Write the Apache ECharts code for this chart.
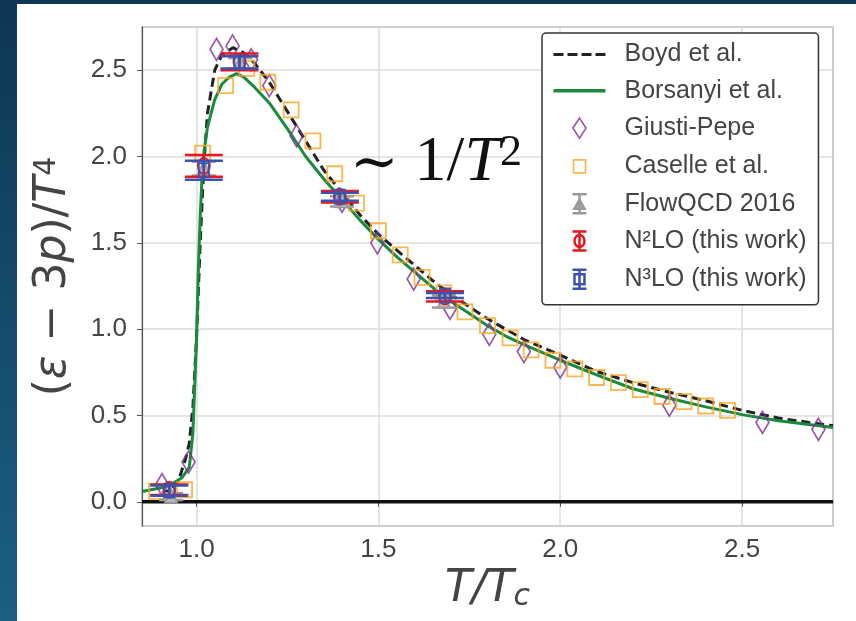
<!DOCTYPE html>
<html><head><meta charset="utf-8">
<script src="https://cdn.jsdelivr.net/npm/echarts@6/dist/echarts.min.js"></script>
<style>html,body{margin:0;padding:0;background:#14486a}#c{width:856px;height:621px}</style>
</head><body><div id="c"></div><script>
// ---- data ----
const boydT = [0.90,0.93,0.95,0.97,0.98,0.99,1.00,1.01,1.02,1.03,1.05,1.07,1.10,1.13,1.16,1.20,1.25,1.30,1.35,1.40,1.45,1.50,1.56,1.60,1.65,1.70,1.75,1.80,1.85,1.90,2.00,2.10,2.20,2.30,2.40,2.50,2.60,2.75];
const boydV = [0.045,0.07,0.12,0.25,0.34,0.55,0.95,1.50,1.95,2.25,2.50,2.59,2.63,2.60,2.54,2.43,2.26,2.09,1.92,1.79,1.66,1.55,1.44,1.37,1.28,1.20,1.13,1.06,1.00,0.94,0.85,0.755,0.69,0.635,0.585,0.53,0.485,0.44];
const borsT = [0.85,0.90,0.93,0.96,0.98,0.99,1.00,1.005,1.01,1.015,1.02,1.03,1.05,1.07,1.09,1.11,1.13,1.16,1.20,1.25,1.30,1.35,1.40,1.45,1.50,1.55,1.60,1.65,1.70,1.75,1.80,1.85,1.90,2.00,2.10,2.20,2.30,2.40,2.50,2.60,2.75];
const borsV = [0.06,0.08,0.10,0.14,0.20,0.40,0.95,1.35,1.65,1.88,2.02,2.17,2.33,2.42,2.46,2.48,2.46,2.40,2.31,2.16,2.00,1.87,1.75,1.63,1.52,1.42,1.33,1.24,1.16,1.09,1.02,0.96,0.91,0.82,0.735,0.655,0.60,0.55,0.505,0.47,0.43];
const gpT = [0.905,0.978,1.055,1.099,1.15,1.20,1.275,1.40,1.497,1.597,1.697,1.805,1.90,2.00,2.30,2.556,2.71];
const gpV = [0.10,0.23,2.62,2.64,2.56,2.41,2.12,1.74,1.50,1.29,1.12,0.97,0.87,0.78,0.56,0.46,0.42];
const casT = [0.848,0.89,0.967,1.017,1.08,1.138,1.196,1.26,1.32,1.38,1.44,1.50,1.56,1.62,1.68,1.738,1.80,1.862,1.92,1.98,2.04,2.10,2.16,2.22,2.28,2.34,2.40,2.46];
const casV = [0.04,0.06,0.07,2.02,2.41,2.51,2.43,2.27,2.09,1.90,1.73,1.57,1.43,1.30,1.21,1.10,1.02,0.95,0.88,0.82,0.77,0.72,0.69,0.65,0.61,0.58,0.555,0.53];
const flowT = [0.93,1.02,1.12,1.40,1.68];
const flowV = [0.03,1.93,2.54,1.74,1.16];
const flowE = [0.02,0.04,0.03,0.03,0.035];
const n2T = [0.925,1.02,1.118,1.394,1.683];
const n2V = [0.07,1.945,2.548,1.767,1.19];
const n2E = [0.03,0.063,0.048,0.033,0.03];
const n3T = [0.925,1.02,1.118,1.394,1.683];
const n3V = [0.065,1.92,2.545,1.767,1.195];
const n3E = [0.03,0.055,0.035,0.023,0.015];
const zeroT = [0.85,2.75];
const zeroV = [0,0];

const zip2 = (a,b)=>a.map((v,i)=>[v,b[i]]);
const zip3 = (a,b,c)=>a.map((v,i)=>[v,b[i],c[i]]);

function errRender(color, capW, shape, lw, fill) {
  return function(params, api) {
    const x = api.value(0), y = api.value(1), e = api.value(2);
    const c = api.coord([x, y]), t = api.coord([x, y + e]), b = api.coord([x, y - e]);
    const st = {stroke: color, lineWidth: lw, fill: 'none'};
    const ch = [
      {type:'line', shape:{x1:c[0], y1:t[1], x2:c[0], y2:b[1]}, style: st},
      {type:'line', shape:{x1:c[0]-capW/2, y1:t[1], x2:c[0]+capW/2, y2:t[1]}, style: st},
      {type:'line', shape:{x1:c[0]-capW/2, y1:b[1], x2:c[0]+capW/2, y2:b[1]}, style: st}
    ];
    const ms = {stroke: color, lineWidth: 1.8, fill: fill || 'none'};
    if (shape === 'circle') ch.push({type:'ellipse', shape:{cx:c[0], cy:c[1], rx:6, ry:8}, style: ms});
    else if (shape === 'rect') ch.push({type:'rect', shape:{x:c[0]-5, y:c[1]-7, width:10, height:14}, style: ms});
    else ch.push({type:'polygon', shape:{points:[[c[0]-6,c[1]+6],[c[0],c[1]-8],[c[0]+6,c[1]+6]]}, style: ms});
    return {type:'group', children: ch};
  };
}

const BOX = 'M0,0 M66,22 ';
const legendData = [
  {name:'Boyd et al.', icon:'path://' + BOX + 'M0,9.5 L10,9.5 L10,12.5 L0,12.5 Z M14,9.5 L24,9.5 L24,12.5 L14,12.5 Z M28,9.5 L38,9.5 L38,12.5 L28,12.5 Z M42,9.5 L52,9.5 L52,12.5 L42,12.5 Z', itemStyle:{color:'#222', borderWidth:0}},
  {name:'Borsanyi et al.', icon:'path://' + BOX + 'M0,9.3 L52,9.3 L52,12.7 L0,12.7 Z', itemStyle:{color:'#1a8a3c', borderWidth:0}},
  {name:'Giusti-Pepe', icon:'path://' + BOX + 'M26,1 L32.5,11 L26,21 L19.5,11 Z', itemStyle:{color:'none', borderColor:'#7b3294', borderWidth:1.7}},
  {name:'Caselle et al.', icon:'path://' + BOX + 'M20,4.5 L32,4.5 L32,17.5 L20,17.5 Z', itemStyle:{color:'none', borderColor:'#f7a520', borderWidth:1.7}},
  {name:'FlowQCD 2016', icon:'path://' + BOX + 'M19,1.5 L33,1.5 M26,1.5 L26,20.5 M19,20.5 L33,20.5 M21,16 L26,7 L31,16 Z', itemStyle:{color:'#b0b0b0', borderColor:'#9a9a9a', borderWidth:2.5}},
  {name:'N²LO (this work)', icon:'path://' + BOX + 'M19,1.5 L33,1.5 M26,1.5 L26,20.5 M19,20.5 L33,20.5 M21,11 A5,6 0 1 0 31,11 A5,6 0 1 0 21,11 Z', itemStyle:{color:'none', borderColor:'#e8161d', borderWidth:2.5}},
  {name:'N³LO (this work)', icon:'path://' + BOX + 'M19,1.5 L33,1.5 M26,1.5 L26,20.5 M19,20.5 L33,20.5 M21,6 L31,6 L31,16 L21,16 Z', itemStyle:{color:'none', borderColor:'#3a52b0', borderWidth:2.5}}
];

const chart = echarts.init(document.getElementById('c'), null, {renderer:'canvas'});
const tickFont = {fontFamily:'Liberation Sans, Arial, sans-serif', fontSize:26, color:'#444'};
chart.setOption({
  animation: false,
  backgroundColor: {type:'linear', x:0, y:0, x2:0, y2:1, colorStops:[{offset:0,color:'#0f3652'},{offset:1,color:'#1b5f82'}]},
  graphic: [
    {type:'rect', shape:{x:17, y:4, width:839, height:617}, style:{fill:'#fff'}, z:-100, silent:true},
    {type:'text', x:350, y:131, z:100, silent:true, style:{
      text:'{a|∼}{b| 1/}{t|T}{s|2}',
      rich:{
        a:{fontFamily:'DejaVu Serif', fontSize:58, fill:'#111', verticalAlign:'bottom'},
        b:{fontFamily:'Liberation Serif', fontSize:64, fill:'#111', verticalAlign:'bottom'},
        t:{fontFamily:'Liberation Serif', fontStyle:'italic', fontSize:64, fill:'#111', verticalAlign:'bottom'},
        s:{fontFamily:'Liberation Serif', fontSize:44, fill:'#111', verticalAlign:'top'}
      }
    }}
  ],
  grid: {left:142, right:23, top:27, bottom:95, show:true, borderColor:'#555', borderWidth:1.2, backgroundColor:'transparent'},
  legend: {
    data: legendData, left:542, top:33, orient:'vertical', selectedMode:false,
    itemWidth:66, itemHeight:22, itemGap:11.3, padding:[9,12,12,9],
    backgroundColor:'#fff', borderColor:'#333', borderWidth:1.5, borderRadius:4,
    textStyle:{fontFamily:'Liberation Sans, Arial, sans-serif', fontSize:25, color:'#444'}
  },
  xAxis: {
    type:'value', min:0.85, max:2.75, splitNumber:4, minInterval:0.5, maxInterval:0.5,
    axisLine:{show:true, lineStyle:{color:'#555', width:1.2}},
    axisTick:{show:true, length:5, lineStyle:{color:'#555'}},
    axisLabel:{...tickFont, margin:11, showMinLabel:false, showMaxLabel:false, formatter:v=>v.toFixed(1)},
    splitLine:{show:true, lineStyle:{color:'#dcdcdc', width:1.5}},
    name:'{i|T}{u|/}{i|T}{c|c}', nameLocation:'middle', nameGap:36,
    nameTextStyle:{rich:{
      i:{fontFamily:'DejaVu Sans', fontStyle:'italic', fontSize:44, color:'#444'},
      u:{fontFamily:'DejaVu Sans', fontStyle:'italic', fontSize:44, color:'#444'},
      c:{fontFamily:'DejaVu Sans', fontStyle:'italic', fontSize:30, color:'#444', verticalAlign:'bottom', padding:[0,0,0,0]}
    }}
  },
  yAxis: {
    type:'value', min:-0.14, max:2.75, splitNumber:5, minInterval:0.5, maxInterval:0.5,
    axisLine:{show:true, lineStyle:{color:'#555', width:1.2}},
    axisTick:{show:true, length:5, lineStyle:{color:'#555'}},
    axisLabel:{...tickFont, margin:15, showMinLabel:false, showMaxLabel:false, formatter:v=>v.toFixed(1)},
    splitLine:{show:true, lineStyle:{color:'#dcdcdc', width:1.5}},
    name:'{u|(}{i|ε}{u| − 3}{i|p}{u|)/}{i|T}{s|4}', nameLocation:'middle', nameGap:66, nameRotate:90,
    nameTextStyle:{rich:{
      i:{fontFamily:'DejaVu Sans', fontStyle:'italic', fontSize:44, color:'#444', verticalAlign:'bottom'},
      u:{fontFamily:'DejaVu Sans', fontSize:44, color:'#444', verticalAlign:'bottom'},
      s:{fontFamily:'DejaVu Sans', fontSize:30, color:'#444', verticalAlign:'top'}
    }}
  },
  series: [
    {name:'zero', type:'line', data:zip2(zeroT, zeroV), symbol:'none', lineStyle:{color:'#111', width:3.5}, z:1, silent:true},
    {name:'Boyd et al.', type:'line', data:zip2(boydT, boydV), symbol:'none', lineStyle:{color:'#222', width:3, type:[9,5]}, z:3},
    {name:'Borsanyi et al.', type:'line', data:zip2(borsT, borsV), symbol:'none', lineStyle:{color:'#1a8a3c', width:3}, z:4},
    {name:'Giusti-Pepe', type:'scatter', data:zip2(gpT, gpV), symbol:'diamond', symbolSize:[13,22], itemStyle:{color:'transparent', borderColor:'#7b3294', borderWidth:1.8}, z:5},
    {name:'Caselle et al.', type:'scatter', data:zip2(casT, casV), symbol:'rect', symbolSize:15, itemStyle:{color:'transparent', borderColor:'#f7a520', borderWidth:1.8}, z:5},
    {name:'FlowQCD 2016', type:'custom', clip:true, data:zip3(flowT, flowV, flowE), renderItem:errRender('#9a9a9a', 24, 'tri', 2.5, '#b8b8b8'), z:6},
    {name:'N²LO (this work)', type:'custom', clip:true, data:zip3(n2T, n2V, n2E), renderItem:errRender('#e8161d', 38, 'circle', 2.5), z:7},
    {name:'N³LO (this work)', type:'custom', clip:true, data:zip3(n3T, n3V, n3E), renderItem:errRender('#3a52b0', 38, 'rect', 2.5), z:8}
  ]
});
</script></body></html>
